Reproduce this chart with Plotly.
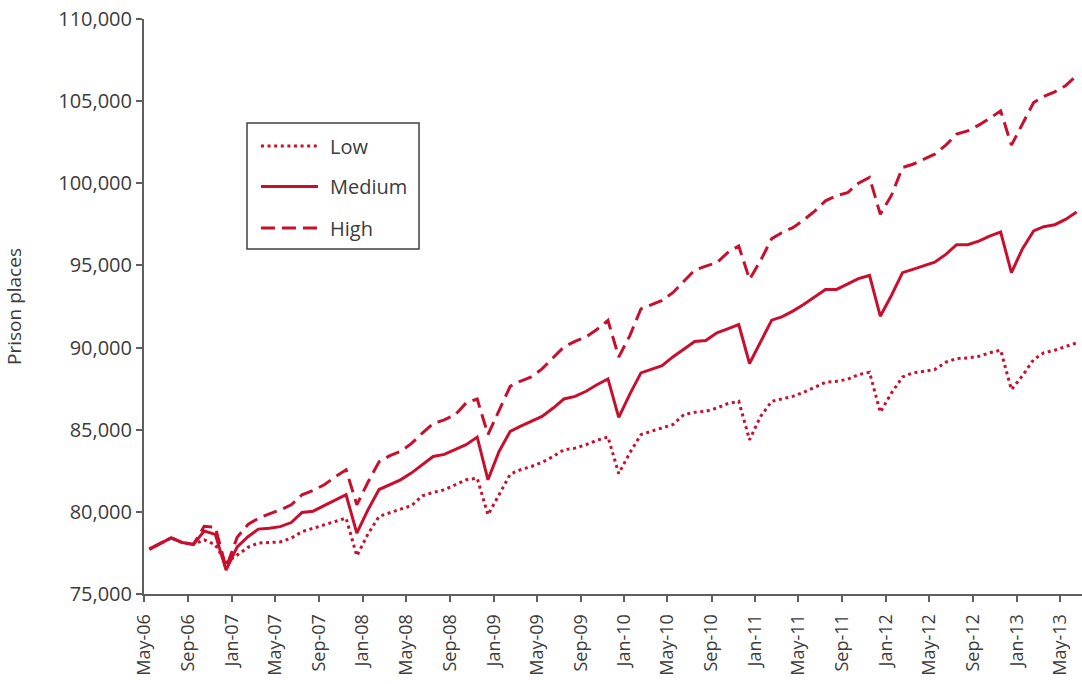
import pandas as pd
import plotly.graph_objects as go

months = pd.date_range("2006-05-01", periods=86, freq="MS") + pd.Timedelta(days=15)

low = [77730, 78060, 78420, 78130, 78020, 78300, 78000, 76900, 77380, 77850,
       78100, 78150, 78170, 78400, 78800, 79000, 79210, 79410, 79620, 77320,
       78650, 79720, 79960, 80170, 80370, 80980, 81180, 81340, 81650, 81950,
       82050, 79820, 81040, 82290, 82560, 82760, 83010, 83370, 83780, 83880,
       84090, 84350, 84560, 82330, 83600, 84700, 84900, 85100, 85310, 85920,
       86060, 86120, 86320, 86590, 86730, 84390, 85810, 86730, 86870, 87030,
       87280, 87600, 87890, 87950, 88070, 88350, 88500, 86060, 87230, 88210,
       88460, 88560, 88660, 89110, 89330, 89370, 89470, 89680, 89840, 87440,
       88290, 89270, 89680, 89840, 90040, 90290]

medium = [77730, 78060, 78420, 78130, 78020, 78830, 78630, 76450, 77870, 78500,
          78950, 79000, 79100, 79350, 79960, 80040, 80370, 80730, 81040, 78700,
          80120, 81360, 81650, 81950, 82360, 82870, 83370, 83500, 83780, 84090,
          84550, 81950, 83680, 84900, 85200, 85510, 85810, 86320, 86870, 87030,
          87340, 87740, 88090, 85750, 87170, 88460, 88660, 88900, 89430, 89920,
          90370, 90430, 90900, 91140, 91400, 89030, 90370, 91670, 91870, 92220,
          92620, 93090, 93540, 93540, 93870, 94200, 94390, 91910, 93170, 94560,
          94760, 94960, 95200, 95670, 96260, 96260, 96480, 96790, 97030, 94560,
          96020, 97100, 97360, 97480, 97800, 98250]

high = [77730, 78060, 78420, 78130, 78020, 79120, 79070, 76600, 78450, 79250,
        79600, 79880, 80120, 80430, 81040, 81300, 81650, 82120, 82560, 80430,
        81800, 83050, 83410, 83680, 84150, 84800, 85370, 85600, 85920, 86630,
        86870, 84700, 86160, 87640, 87950, 88210, 88700, 89370, 90040, 90380,
        90650, 91100, 91650, 89420, 90730, 92360, 92620, 92870, 93340, 94050,
        94720, 94960, 95170, 95780, 96180, 94150, 95300, 96630, 96990, 97300,
        97760, 98310, 98930, 99250, 99430, 100000, 100350, 98110, 99260, 100960,
        101160, 101470, 101770, 102320, 102990, 103190, 103540, 103950, 104410, 102320,
        103620, 104920, 105290, 105570, 105940, 106550]

series_names = ["Low", "Medium", "High"]
y_ticks = [75000, 80000, 85000, 90000, 95000, 100000, 105000, 110000]

RED = "#C8102E"
TXT = "#3c3c3c"
AX = "#5f5f5f"
FONT = "Open Sans"

dashes = {"Low": "3px,3.6px", "Medium": "solid", "High": "14px,7px"}
data = {"Low": low, "Medium": medium, "High": high}

fig = go.Figure()
for name in series_names:
    fig.add_trace(go.Scatter(
        x=months, y=data[name], mode="lines", name=name, showlegend=False,
        line=dict(color=RED, width=3, dash=dashes[name]),
    ))

fig.update_layout(
    width=1082, height=684,
    margin=dict(l=144, r=0, t=19, b=90, autoexpand=False),
    paper_bgcolor="white", plot_bgcolor="white",
    font=dict(family=FONT, color=TXT, size=18),
    xaxis=dict(
        type="date", range=["2006-05-01", "2013-07-01"],
        tick0="2006-05-01", dtick="M4", tickformat="%b-%y", tickangle=-90,
        showgrid=False, zeroline=False, showline=True, linecolor=AX, linewidth=2,
        ticks="outside", ticklen=6, tickwidth=1.5, tickcolor=AX,
        tickfont=dict(family=FONT, size=18, color=TXT), automargin=False,
        ticklabelstandoff=5,
    ),
    yaxis=dict(
        range=[75000, 110000], tickvals=y_ticks, tickformat=",d",
        showgrid=False, zeroline=False, showline=True, linecolor=AX, linewidth=2,
        ticks="outside", ticklen=6, tickwidth=1.5, tickcolor=AX,
        tickfont=dict(family=FONT, size=20, color=TXT), automargin=False,
        ticklabeloverflow="allow",
        title=dict(text="Prison places", font=dict(family=FONT, size=19, color=TXT), standoff=32),
    ),
)

# manual legend box
lx0, lx1, ly0, ly1 = 0.1098, 0.2932, 0.600, 0.8191
fig.add_shape(type="rect", xref="paper", yref="paper", x0=lx0, x1=lx1, y0=ly0, y1=ly1,
              line=dict(color="#404040", width=1.5), fillcolor="white", layer="above")
leg_y = {"Low": 0.7791, "Medium": 0.7087, "High": 0.6365}
for name in series_names:
    fig.add_shape(type="line", xref="paper", yref="paper", x0=0.1247, x1=0.1855,
                  y0=leg_y[name], y1=leg_y[name],
                  line=dict(color=RED, width=3, dash=dashes[name]), layer="above")
    fig.add_annotation(x=0.1962, y=leg_y[name], xref="paper", yref="paper", text=name,
                       showarrow=False, xanchor="left", yanchor="middle",
                       font=dict(family=FONT, size=20, color=TXT))

fig.write_html("out.html", config={"displayModeBar": False},
               post_script="document.body.style.margin='0';")
